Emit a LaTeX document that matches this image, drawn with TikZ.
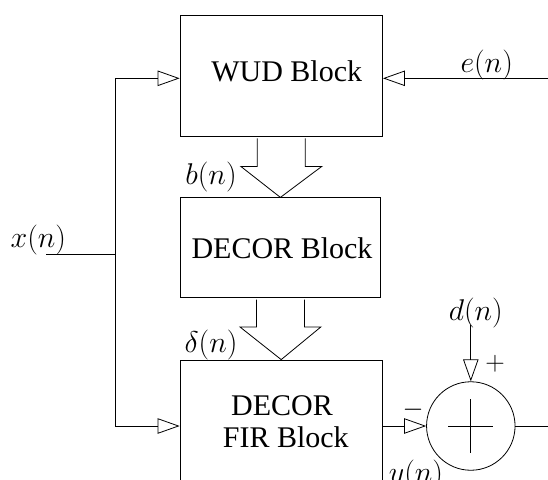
\RequirePackage{fix-cm}
\documentclass[tikz,border=0pt]{standalone}
\usepackage{fontspec}
\setmainfont{Liberation Serif}
\usetikzlibrary{arrows.meta,calc}
\tikzset{
  blk/.style={draw, line width=0.8pt, inner sep=0pt},
  txt/.style={font=\fontsize{30}{32}\selectfont, anchor=base, inner sep=0pt},
  lbl/.style={font=\fontsize{30}{32}\selectfont, anchor=base, inner sep=0pt},
  sig/.style={font=\fontsize{27}{29}\selectfont, inner sep=0pt},
  wire/.style={line width=0.8pt},
  inarrow/.style={wire, -{Triangle[open,length=22pt,width=15.4pt,line width=0.8pt]}},
  fat/.style={line width=0.8pt, line join=miter},
}
\begin{document}
\begin{tikzpicture}[x=1pt,y=-1pt]
\useasboundingbox (0,0) rectangle (548,479);
\clip (0,0) rectangle (548,479);
% blocks
\node[blk, minimum width=202.5pt, minimum height=121pt] (wud) at (281.3,75.5) {};
\node[blk, minimum width=200.7pt, minimum height=100pt] (decor) at (280.4,247.8) {};
\node[blk, minimum width=202.3pt, minimum height=200pt] (fir) at (281.2,460) {};
\node[txt] (wudt) at (286.7,81.7) {WUD Block};
\node[txt] (dect) at (282,258.3) {DECOR Block};
\node[txt] (firt1) at (282,415) {DECOR};
\node[txt] (firt2) at (285.8,447.7) {FIR Block};
% summing junction
\node[draw, circle, wire, minimum size=88.5pt, inner sep=0pt] (sum) at (470.8,426) {};
\draw[wire] ($(sum.center)+(-22.4,0)$) -- ($(sum.center)+(22.4,0)$);
\draw[wire] ($(sum.center)+(0,-26.7)$) -- ($(sum.center)+(0,26.7)$);
% free ends
\coordinate (xin) at (46,254);
\coordinate (split) at (115.5,254);
\coordinate (ein) at (548,78.3);
\coordinate (din) at (470.8,325);
\coordinate (yout) at (548,426);
% wires
\draw[wire] (xin) -- (split);
\draw[inarrow] (split) |- ([yshift=-2.8pt]wud.west);
\draw[inarrow] (split) |- (fir.west |- sum.west);
\draw[inarrow] (ein) -- (ein -| wud.east);
\draw[inarrow] (fir.east |- sum.west) -- (sum.west);
\draw[inarrow] (din) -- (sum.north);
\draw[wire] (sum.east) -- (yout);
% fat arrows
\draw[fat] ($(wud.south)+(-24,2)$) -- ($(wud.south)+(-24,30)$) -- ($(wud.south)+(-40.5,30)$)
  -- (decor.north) -- ($(wud.south)+(40.5,30)$) -- ($(wud.south)+(24,30)$) -- ($(wud.south)+(24,2)$);
\draw[fat] ($(decor.south)+(-24,1.5)$) -- ($(decor.south)+(-24,28.7)$) -- ($(decor.south)+(-40.5,28.7)$)
  -- (fir.north) -- ($(decor.south)+(40.5,28.7)$) -- ($(decor.south)+(24,28.7)$) -- ($(decor.south)+(24,1.5)$);
% labels
\node[lbl] (el) at (486.7,72) {$e(n)$};
\node[lbl] (bl) at (211,184.5) {$b(n)$};
\node[lbl] (dl) at (211,352.5) {$\delta(n)$};
\node[lbl] (xl) at (38.3,247) {$x(n)$};
\node[lbl] (dnl) at (475.8,320.5) {$d(n)$};
\node[lbl] (yl) at (416,482.5) {$y(n)$};
\node[sig] (plus) at (495,363.3) {$+$};
\node[sig] (minus) at (413,410) {$-$};
\end{tikzpicture}
\end{document}
